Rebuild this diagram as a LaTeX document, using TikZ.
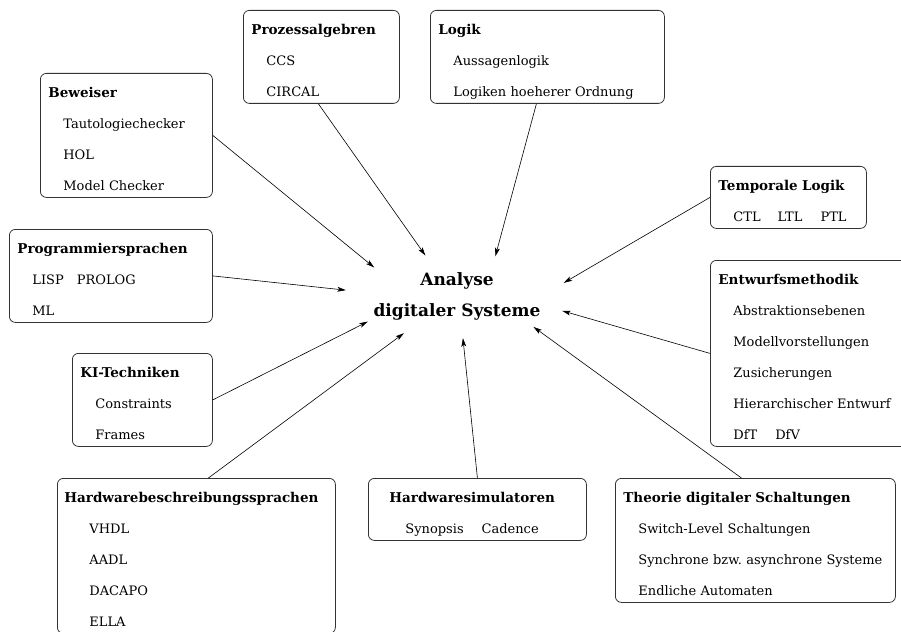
\documentclass[tikz,border=0pt]{standalone}
\usepackage{fontspec}
\setmainfont{DejaVu Serif}
\usetikzlibrary{arrows.meta, shapes.geometric}

% one line of a box: fixed 31pt pitch
\newcommand{\ttl}[1]{\rule[-7pt]{0pt}{31pt}\mbox{\fontsize{13.5}{31}\selectfont\textbf{#1}}}
\newcommand{\itm}[2][15pt]{\rule[-7pt]{0pt}{31pt}\hspace*{#1}\mbox{#2}}

\begin{document}
\frenchspacing
\begin{tikzpicture}[
    x = 1pt, y = -1pt,
    box/.style = {draw = black!80, line width = 0.8pt,
                  rounded corners = 6pt, anchor = north west,
                  inner xsep = 8pt, inner ysep = 0pt,
                  align = left, font = \fontsize{13}{31}\selectfont},
    hub/.style = {ellipse, minimum width = 224pt, minimum height = 84pt,
                  inner xsep = -25pt, inner ysep = 0pt, align = center,
                  font = \fontsize{17}{31}\selectfont\bfseries},
    arr/.style = {-{Stealth[length=8.5pt, width=4.8pt, inset=2pt]},
                  line width = 0.6pt},
  ]
    \clip (0,0) rectangle (901,631);
    \fill[white] (0,0) rectangle (901,631);

    %% ── Centre ───────────────────────────────────────────────────
    \node[hub] (ana) at (457,296) {Analyse\\digitaler Systeme};

    %% ── Upper row ────────────────────────────────────────────────
    \node[box, text width = 140pt] (proz) at (243,10)
      {\ttl{Prozessalgebren}\\\itm{CCS}\\\itm{CIRCAL}};
    \node[box, text width = 218pt] (logik) at (430,10)
      {\ttl{Logik}\\\itm{Aussagenlogik}\\\itm{Logiken hoeherer Ordnung}};

    %% ── Left column ──────────────────────────────────────────────
    \node[box, text width = 156pt] (bew) at (40,73)
      {\ttl{Beweiser}\\\itm{Tautologiechecker}\\\itm{HOL}\\\itm{Model Checker}};
    \node[box, text width = 187pt] (prog) at (9,229)
      {\ttl{Programmiersprachen}\\
       \itm{LISP\hspace{13pt}PROLOG}\\\itm{ML}};
    \node[box, text width = 124pt] (ki) at (72,353)
      {\ttl{KI-Techniken}\\\itm{Constraints}\\\itm{Frames}};

    %% ── Lower row ────────────────────────────────────────────────
    \node[box, text width = 264pt, inner xsep = 7pt] (hwb) at (57,478)
      {\ttl{Hardwarebeschreibungssprachen}\\\itm[25pt]{VHDL}\\
       \itm[25pt]{AADL}\\\itm[25pt]{DACAPO}\\\itm[25pt]{ELLA}};
    \node[box, text width = 202pt] (hws) at (368,478)
      {\ttl{\hspace*{13pt}Hardwaresimulatoren}\\
       \itm[29pt]{Synopsis\hspace{18pt}Cadence}};
    \node[box, text width = 264pt] (theo) at (615,478)
      {\ttl{Theorie digitaler Schaltungen}\\
       \itm{Switch-Level Schaltungen}\\
       \itm{Synchrone bzw. asynchrone Systeme}\\
       \itm{Endliche Automaten}};

    %% ── Right column ─────────────────────────────────────────────
    \node[box, text width = 140pt] (temp) at (710,166)
      {\ttl{Temporale Logik}\\
       \itm{CTL\hspace{17pt}LTL\hspace{18pt}PTL}};
    \node[box, text width = 214pt] (entw) at (710,260)
      {\ttl{Entwurfsmethodik}\\\itm{Abstraktionsebenen}\\
       \itm{Modellvorstellungen}\\\itm{Zusicherungen}\\
       \itm{Hierarchischer Entwurf}\\\itm{DfT\hspace{18pt}DfV}};

    %% ── Arrows into the centre ───────────────────────────────────
    \draw[arr] (bew.east)               -- (ana.161);
    \draw[arr] ([xshift=-3pt]proz.south)  -- (ana.128);
    \draw[arr] ([xshift=-11pt]logik.south) -- (ana.46);
    \draw[arr] (temp.west)              -- (ana.7);
    \draw[arr] (prog.east)              -- (ana.177);
    \draw[arr] (entw.west)              -- (ana.352);
    \draw[arr] (ki.east)                -- (ana.196);
    \draw[arr] ([xshift=12pt]hwb.north)  -- (ana.215);
    \draw[arr] (hws.north)              -- (ana.278);
    \draw[arr] ([xshift=-14pt]theo.north) -- (ana.338);
  \end{tikzpicture}
\end{document}
